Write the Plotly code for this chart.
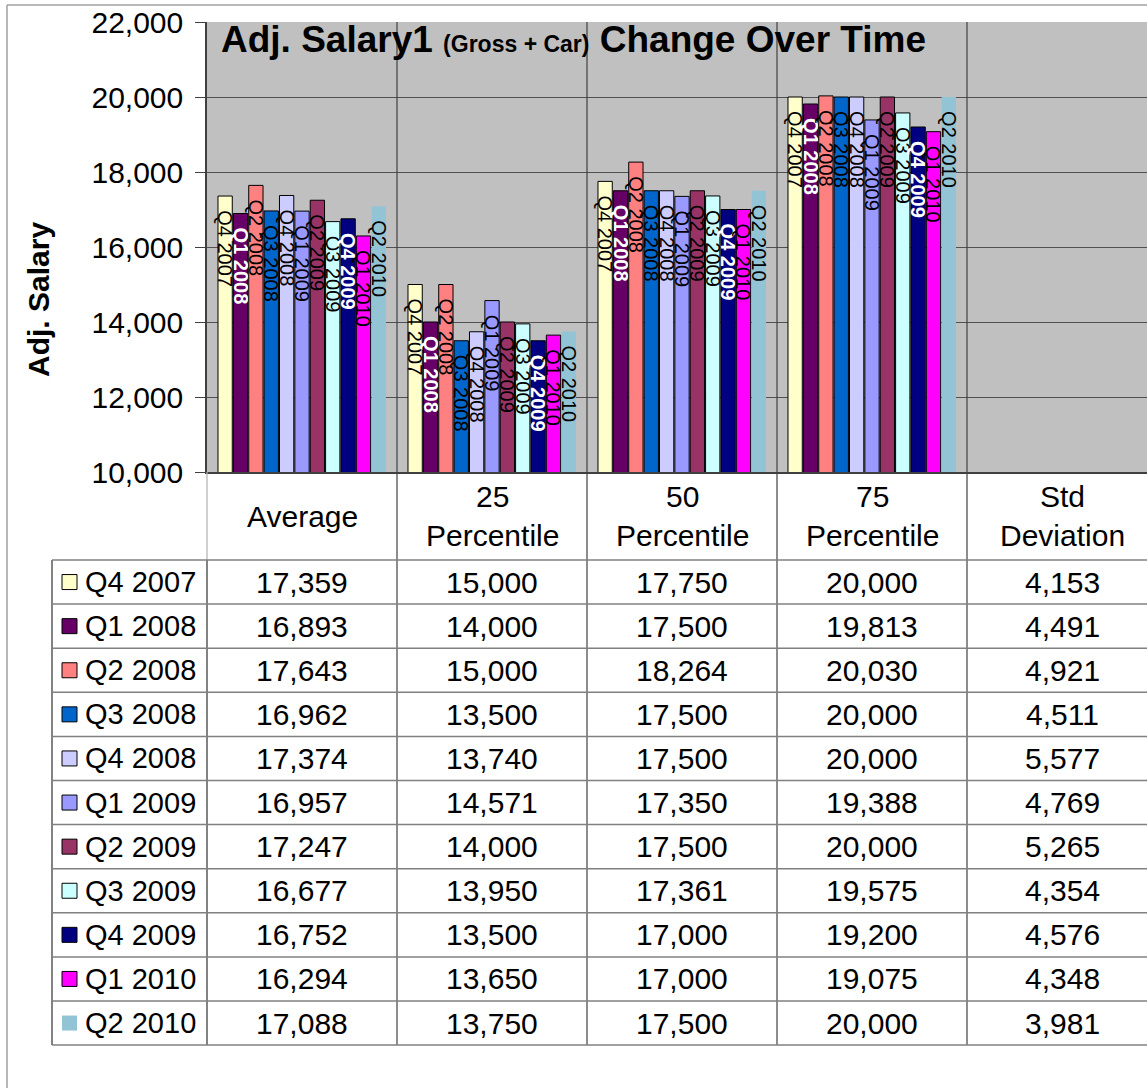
import plotly.graph_objects as go

W, H = 1147, 1088

categories = ["Average", "25 Percentile", "50 Percentile", "75 Percentile", "Std Deviation"]
header_labels = ["Average", "25<br>Percentile", "50<br>Percentile", "75<br>Percentile", "Std<br>Deviation"]
series = ["Q4 2007", "Q1 2008", "Q2 2008", "Q3 2008", "Q4 2008", "Q1 2009",
          "Q2 2009", "Q3 2009", "Q4 2009", "Q1 2010", "Q2 2010"]
avg = [17359, 16893, 17643, 16962, 17374, 16957, 17247, 16677, 16752, 16294, 17088]
p25 = [15000, 14000, 15000, 13500, 13740, 14571, 14000, 13950, 13500, 13650, 13750]
p50 = [17750, 17500, 18264, 17500, 17500, 17350, 17500, 17361, 17000, 17000, 17500]
p75 = [20000, 19813, 20030, 20000, 20000, 19388, 20000, 19575, 19200, 19075, 20000]
std = [4153, 4491, 4921, 4511, 5577, 4769, 5265, 4354, 4576, 4348, 3981]
y_ticks = [10000, 12000, 14000, 16000, 18000, 20000, 22000]

colors = ["#FFFFCC", "#660066", "#FF8080", "#0066CC", "#CCCCFF", "#9999FF",
          "#993366", "#CCFFFF", "#000080", "#FF00FF", "#93C4D5"]
label_colors = ["black", "white", "black", "black", "black", "black",
                "black", "black", "white", "black", "black"]
label_weights = ["normal", "bold", "normal", "normal", "normal", "normal",
                 "normal", "normal", "bold", "normal", "normal"]
outline = [1, 1, 1, 1, 1, 1, 1, 1, 1, 1, 0]

FONT = "Liberation Sans, Arial, sans-serif"


def X(px):
    return px / W


def Y(py):
    return 1 - py / H


table = [avg, p25, p50, p75, std]

fig = go.Figure()
for i, name in enumerate(series):
    vals = [col[i] for col in table]
    texts = ["&nbsp;&nbsp;" + name if v > y_ticks[0] else "" for v in vals]
    fig.add_trace(go.Bar(
        x=list(range(len(categories))), y=vals, name=name,
        marker=dict(color=colors[i], line=dict(color="black", width=outline[i])),
        text=texts, textposition="inside", insidetextanchor="end",
        textangle=90, constraintext="none",
        textfont=dict(family=FONT, size=20, color=label_colors[i], weight=label_weights[i]),
        showlegend=False, hoverinfo="skip",
    ))

shapes = []
annotations = []

# chart border
shapes.append(dict(type="line", xref="paper", yref="paper", x0=X(7), x1=1, y0=Y(5), y1=Y(5),
                   line=dict(color="#A0A0A0", width=1.5)))
shapes.append(dict(type="line", xref="paper", yref="paper", x0=X(7), x1=X(7), y0=Y(5), y1=0,
                   line=dict(color="#A0A0A0", width=1.5)))

# table geometry
row_top = 560
row_h = 44.1
n = len(series)
table_bottom = row_top + row_h * n

for k in range(len(categories) - 1):
    shapes.append(dict(type="line", xref="x", yref="paper", x0=k + 0.5, x1=k + 0.5,
                       y0=Y(22), y1=Y(table_bottom), line=dict(color="#404040", width=1.2)))
shapes.append(dict(type="line", xref="paper", yref="paper", x0=X(207), x1=X(207),
                   y0=Y(472), y1=Y(row_top), line=dict(color="#B0B0B0", width=1.2)))
shapes.append(dict(type="line", xref="paper", yref="paper", x0=X(207), x1=X(207),
                   y0=Y(row_top), y1=Y(table_bottom), line=dict(color="#303030", width=1.2)))
shapes.append(dict(type="line", xref="paper", yref="paper", x0=X(52), x1=X(52),
                   y0=Y(row_top), y1=Y(table_bottom), line=dict(color="#303030", width=1.2)))
for r in range(n + 1):
    yy = row_top + row_h * r
    shapes.append(dict(type="line", xref="paper", yref="paper", x0=X(52), x1=1,
                       y0=Y(yy), y1=Y(yy), line=dict(color="#808080", width=1.5)))

for k, lab in enumerate(header_labels):
    annotations.append(dict(xref="x", yref="paper", x=k, y=Y(516), text=lab, showarrow=False,
                            xanchor="center", yanchor="middle",
                            font=dict(family=FONT, size=30, color="black")))

for i, name in enumerate(series):
    cy = row_top + row_h * (i + 0.5)
    shapes.append(dict(type="rect", xref="paper", yref="paper", x0=X(62), x1=X(77),
                       y0=Y(cy + 7.5), y1=Y(cy - 7.5), fillcolor=colors[i],
                       line=dict(color="black", width=outline[i])))
    annotations.append(dict(xref="paper", yref="paper", x=X(83), y=Y(cy), text=name,
                            showarrow=False, xanchor="left", yanchor="middle",
                            font=dict(family=FONT, size=29, color="black")))
    for k, col in enumerate(table):
        annotations.append(dict(xref="x", yref="paper", x=k, y=Y(cy), text=f"{col[i]:,}",
                                showarrow=False, xanchor="center", yanchor="middle",
                                font=dict(family=FONT, size=30, color="black")))

annotations.append(dict(xref="paper", yref="paper", x=X(219), y=Y(40), xanchor="left", yanchor="middle",
                        showarrow=False,
                        text="<b>Adj. Salary1 <span style='font-size:23px'>(Gross + Car)</span> Change Over Time</b>",
                        font=dict(family=FONT, size=37, color="black")))
annotations.append(dict(xref="paper", yref="paper", x=X(38), y=Y(300), xanchor="center", yanchor="middle",
                        showarrow=False, textangle=-90, text="<b>Adj. Salary</b>",
                        font=dict(family=FONT, size=30, color="black")))

fig.update_layout(
    width=W, height=H, margin=dict(l=0, r=0, t=0, b=0, pad=0, autoexpand=False),
    paper_bgcolor="white", plot_bgcolor="#C0C0C0",
    barmode="group", bargap=0.11, bargroupgap=0.07,
    shapes=shapes, annotations=annotations,
    xaxis=dict(domain=[X(207), 1], range=[-0.5, len(categories) - 0.5 - 10 / 190],
               showticklabels=False, showgrid=False, zeroline=False, ticks="", automargin=False,
               showline=True, linecolor="#404040", linewidth=1.5),
    yaxis=dict(domain=[Y(472), Y(22)], range=[y_ticks[0], y_ticks[-1]], tickvals=y_ticks,
               ticktext=[f"{v:,}" for v in y_ticks], showgrid=True, gridcolor="#505050", gridwidth=1,
               zeroline=False, ticks="outside", ticklen=10, tickcolor="#404040", automargin=False,
               ticklabeloverflow="allow", ticklabelstandoff=6,
               showline=True, linecolor="#404040", linewidth=1.5,
               tickfont=dict(family=FONT, size=30, color="black")),
)

fig.write_html("out.html", config={"displayModeBar": False},
               post_script="document.body.style.margin='0';")
